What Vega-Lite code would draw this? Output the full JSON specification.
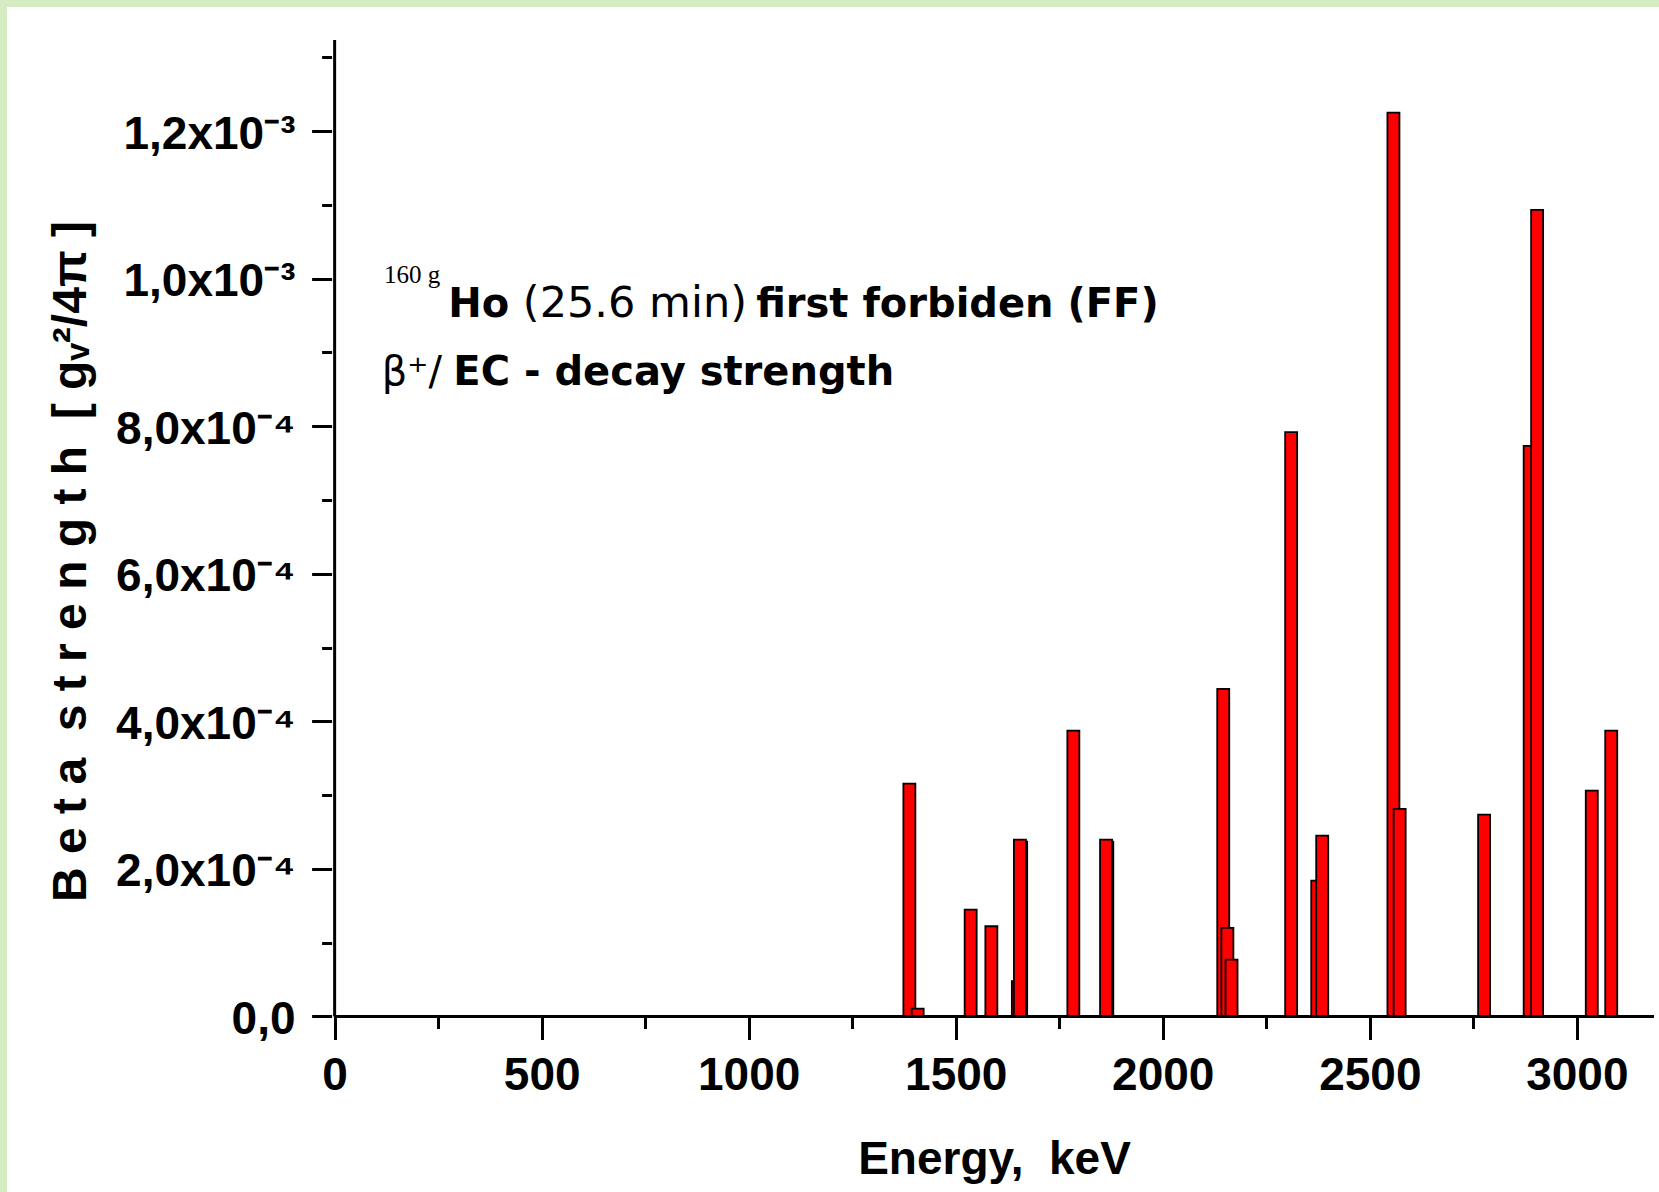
{
  "$schema": "https://vega.github.io/schema/vega-lite/v6.json",
  "width": 1652,
  "height": 1185,
  "autosize": {"type": "none"},
  "padding": {"left": 7, "top": 7, "right": 0, "bottom": 0},
  "background": "#d5ecc2",
  "config": {"view": {"fill": "white", "stroke": null}},
  "layer": [
    {
      "data": {"values": [
        {"energy": 1388, "strength": 0.0003156},
        {"energy": 1408, "strength": 0.0000108},
        {"energy": 1536, "strength": 0.0001449},
        {"energy": 1586, "strength": 0.0001223},
        {"energy": 1650, "strength": 0.0000478},
        {"energy": 1658, "strength": 0.000237},
        {"energy": 1655, "strength": 0.0002397},
        {"energy": 1784, "strength": 0.0003874},
        {"energy": 1866, "strength": 0.000237},
        {"energy": 1863, "strength": 0.0002397},
        {"energy": 2146, "strength": 0.0004438},
        {"energy": 2156, "strength": 0.0001201},
        {"energy": 2166, "strength": 0.0000772},
        {"energy": 2310, "strength": 0.000792},
        {"energy": 2373, "strength": 0.0001842},
        {"energy": 2385, "strength": 0.0002452},
        {"energy": 2557, "strength": 0.001225},
        {"energy": 2572, "strength": 0.0002813},
        {"energy": 2776, "strength": 0.0002736},
        {"energy": 2886, "strength": 0.0007734},
        {"energy": 2904, "strength": 0.0010931},
        {"energy": 3036, "strength": 0.0003061},
        {"energy": 3083, "strength": 0.0003874}
      ]},
      "mark": {"type": "bar", "width": 12, "fill": "#ff0000", "stroke": "#000000", "strokeWidth": 1.8},
      "encoding": {
        "x": {
          "field": "energy", "type": "quantitative",
          "scale": {"domain": [-779.16, 3186.27], "nice": false, "zero": false},
          "axis": {
            "title": "Energy, \u00a0keV",
            "offset": -175.5,
            "domain": false,
            "grid": false,
            "values": [0, 250, 500, 750, 1000, 1250, 1500, 1750, 2000, 2250, 2500, 2750, 3000],
            "tickColor": "#000000",
            "tickWidth": 3,
            "tickSize": 23,
            "tickDash": {"condition": {"test": "datum.value % 500 !== 0", "value": [12, 40]}, "value": [40, 0]},
            "labelExpr": "datum.value % 500 === 0 ? format(datum.value, 'd') : ''",
            "labelFont": "Liberation Sans",
            "labelFontWeight": "bold",
            "labelFontSize": 46,
            "labelColor": "#000000",
            "labelBaseline": "alphabetic",
            "labelPadding": 49.5,
            "labelOverlap": false,
            "labelFlush": false,
            "labelBound": false,
            "titleFont": "Liberation Sans",
            "titleFontWeight": "bold",
            "titleFontSize": 46,
            "titleColor": "#000000",
            "titleX": 987,
            "titleY": 156.5,
            "titleAlign": "center",
            "titleBaseline": "alphabetic"
          }
        },
        "y": {
          "field": "strength", "type": "quantitative",
          "scale": {"domain": [-0.00023784, 0.00136807], "nice": false, "zero": false},
          "axis": {
            "title": "B e t a \u00a0s t r e n g t h \u00a0[ gᵥ²/4π ]",
            "offset": -324.6,
            "domain": false,
            "grid": false,
            "values": [0, 0.0001, 0.0002, 0.0003, 0.0004, 0.0005, 0.0006, 0.0007, 0.0008, 0.0009, 0.001, 0.0011, 0.0012, 0.0013],
            "tickColor": "#000000",
            "tickWidth": 3,
            "tickSize": 20,
            "tickDash": {"condition": {"test": "round(datum.value * 10000) % 2 === 1", "value": [10, 40]}, "value": [40, 0]},
            "labelExpr": "datum.value === 0 ? '0,0' : (round(datum.value * 10000) % 2 === 1 ? '' : (datum.value < 0.00095 ? replace(format(datum.value * 10000, '.1f'), '.', ',') + 'x10⁻⁴' : replace(format(datum.value * 1000, '.1f'), '.', ',') + 'x10⁻³'))",
            "labelFont": "Liberation Sans",
            "labelFontWeight": "bold",
            "labelFontSize": 46,
            "labelColor": "#000000",
            "labelAlign": "right",
            "labelBaseline": "alphabetic",
            "labelOffset": 17,
            "labelPadding": 16.6,
            "labelOverlap": false,
            "labelFlush": false,
            "labelBound": false,
            "titleFont": "Liberation Sans",
            "titleFontWeight": "bold",
            "titleFontSize": 48,
            "titleColor": "#000000",
            "titleAngle": 270,
            "titleX": -246.6,
            "titleY": 554,
            "titleAlign": "center",
            "titleBaseline": "alphabetic"
          }
        },
        "y2": {"datum": 0}
      }
    },
    {
      "data": {"values": [{}]},
      "mark": {"type": "rule", "strokeWidth": 3, "color": "#000000"},
      "encoding": {
        "x": {"datum": 0},
        "y": {"datum": 0},
        "y2": {"datum": 0.0013233}
      }
    },
    {
      "data": {"values": [{}]},
      "mark": {"type": "rule", "strokeWidth": 3, "color": "#000000"},
      "encoding": {
        "x": {"datum": -1},
        "x2": {"datum": 3186.27},
        "y": {"datum": 0}
      }
    },
    {
      "data": {"values": [{}]},
      "mark": {"type": "text", "text": "160 g", "font": "Liberation Serif", "fontSize": 25, "align": "left", "baseline": "alphabetic", "color": "#000000"},
      "encoding": {
        "x": {"datum": 119},
        "y": {"datum": 0.0009934}
      }
    },
    {
      "data": {"values": [{}]},
      "mark": {"type": "text", "text": "Ho", "font": "DejaVu Sans", "fontWeight": "bold", "fontSize": 40, "align": "left", "baseline": "alphabetic", "color": "#000000"},
      "encoding": {
        "x": {"datum": 274.6},
        "y": {"datum": 0.0009484}
      }
    },
    {
      "data": {"values": [{}]},
      "mark": {"type": "text", "text": "(25.6 min)", "font": "DejaVu Sans", "fontWeight": "normal", "fontSize": 43, "align": "left", "baseline": "alphabetic", "color": "#000000"},
      "encoding": {
        "x": {"datum": 454.6},
        "y": {"datum": 0.0009484}
      }
    },
    {
      "data": {"values": [{}]},
      "mark": {"type": "text", "text": "first forbiden (FF)", "font": "DejaVu Sans", "fontWeight": "bold", "fontSize": 40, "align": "left", "baseline": "alphabetic", "color": "#000000"},
      "encoding": {
        "x": {"datum": 1018},
        "y": {"datum": 0.0009484}
      }
    },
    {
      "data": {"values": [{}]},
      "mark": {"type": "text", "text": "β⁺/", "font": "DejaVu Sans", "fontWeight": "normal", "fontSize": 40, "align": "left", "baseline": "alphabetic", "color": "#000000"},
      "encoding": {
        "x": {"datum": 114},
        "y": {"datum": 0.0008558}
      }
    },
    {
      "data": {"values": [{}]},
      "mark": {"type": "text", "text": "EC - decay strength", "font": "DejaVu Sans", "fontWeight": "bold", "fontSize": 40, "align": "left", "baseline": "alphabetic", "color": "#000000"},
      "encoding": {
        "x": {"datum": 286.6},
        "y": {"datum": 0.0008558}
      }
    }
  ]
}
